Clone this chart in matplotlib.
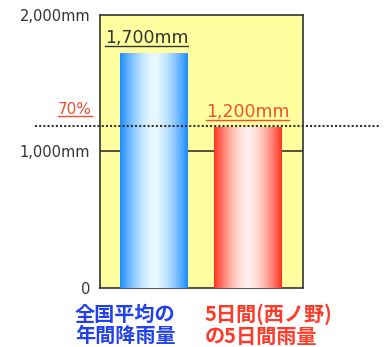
import matplotlib
matplotlib.use('Agg')
import matplotlib.pyplot as plt
import numpy as np
from matplotlib.colors import LinearSegmentedColormap
from matplotlib.lines import Line2D
import matplotlib.transforms as mtransforms

# データ
categories = ['全国平均の\n年間降雨量', '5日間(西ノ野)\nの5日間雨量']
values = [1720, 1175]            # 棒の高さ
value_labels = ['1,700mm', '1,200mm']
threshold = 1190                 # 70%ライン
threshold_label = '70%'
yticks = [0, 1000, 2000]
ytick_labels = ['0', '1,000mm', '2,000mm']

plt.rcParams['font.family'] = ['DejaVu Sans', 'Noto Sans CJK JP']

fig = plt.figure(figsize=(3.89, 3.47), dpi=100)
fig.patch.set_facecolor('white')
ax = fig.add_axes([0.257, 0.170, 0.522, 0.787])
ax.set_facecolor('#ffffa0')

x = np.arange(len(values))
width = 0.727

# グラデーション付きの棒
edge_colors = ['#1a8cff', '#ff3320']
mid_colors = ['#e8f8ff', '#fff0ec']
t = np.linspace(-1, 1, 200)
grad = np.abs(t) ** 1.6
for xi, v, ec, mc in zip(x, values, edge_colors, mid_colors):
    cmap = LinearSegmentedColormap.from_list('g', [mc, ec])
    ax.imshow(grad[np.newaxis, :], cmap=cmap, aspect='auto',
              extent=(xi - width / 2, xi + width / 2, 0, v), zorder=3)
ax.set_xlim(-0.578, 1.594)
ax.set_ylim(0, 2000)

# 1,000mm の線
ax.axhline(1000, color='#333333', linewidth=1.2, zorder=1)

# 70% の点線（枠外まで伸ばす）
trans = mtransforms.blended_transform_factory(fig.transFigure, ax.transData)
ax.plot([35 / 389, 380 / 389], [threshold, threshold], transform=trans,
        color='#333333', linestyle=(0, (1, 1)), linewidth=1.5,
        clip_on=False, zorder=5)

# 軸
ax.set_yticks(yticks)
ax.set_yticklabels(ytick_labels, fontsize=10.5, color='#333333',
                   family='DejaVu Sans')
ax.tick_params(axis='y', length=0, pad=7)
ax.set_xticks([])
for s in ax.spines.values():
    s.set_color('#333333')
    s.set_linewidth(1.2)

underlined = []

# 値ラベル
label_colors = ['#333333', '#f05030']
for xi, v, lab, c in zip(x, values, value_labels, label_colors):
    t_ = ax.text(xi - 0.08 * (1 - xi), v + 45, lab, ha='center', va='bottom',
                 fontsize=12.5, color=c, zorder=6, family='DejaVu Sans')
    underlined.append((t_, c))

# 70% ラベル
t70 = ax.text(-0.04, threshold + 60, threshold_label,
              transform=mtransforms.blended_transform_factory(ax.transAxes, ax.transData),
              ha='right', va='bottom', fontsize=11, color='#f05030',
              family='DejaVu Sans')
underlined.append((t70, '#f05030'))

# カテゴリラベル
cat_colors = ['#2040f0', '#ff3a28']
cat_offsets = [-0.845, -0.455]
for xi, lab, c, off in zip(x, categories, cat_colors, cat_offsets):
    ax.text(xi + off, -115, lab, ha='left', va='top', fontsize=14.5,
            fontweight='bold', color=c, family=['Noto Sans CJK JP', 'DejaVu Sans'],
            linespacing=1.02)

# 下線
fig.canvas.draw()
renderer = fig.canvas.get_renderer()
inv = fig.transFigure.inverted()
for t_, c in underlined:
    bb = t_.get_window_extent(renderer)
    (x0, y0), (x1, _) = inv.transform([(bb.x0, bb.y0 + 1), (bb.x1, bb.y0)])
    fig.add_artist(Line2D([x0, x1], [y0, y0], color=c, linewidth=1.0))

fig.savefig('out.png', dpi=100)
